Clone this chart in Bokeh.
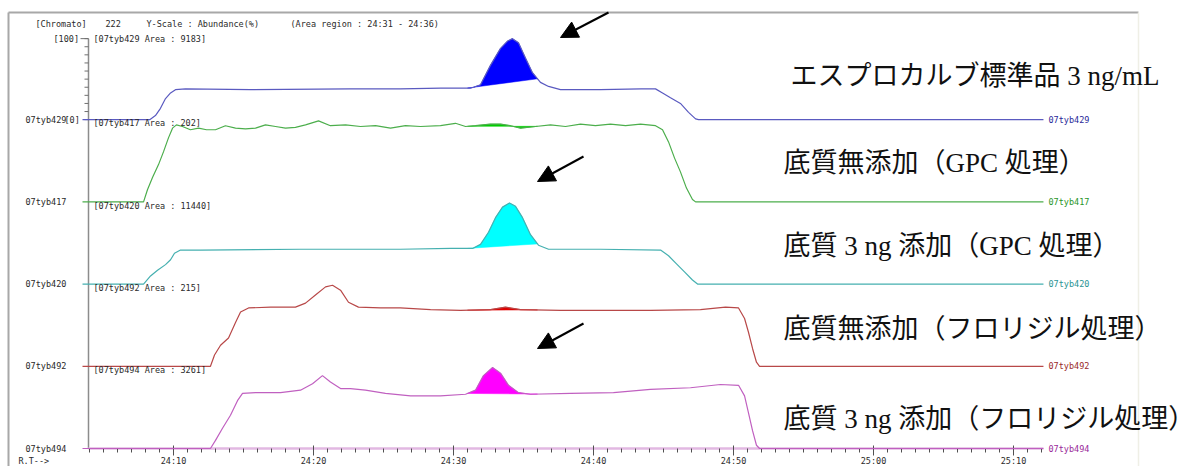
import numpy as np
from bokeh.plotting import figure
from bokeh.models import Range1d, Arrow, NormalHead
from bokeh.core.properties import value
from bokeh.embed import file_html
from bokeh.resources import INLINE

# ---------------- data (time = seconds after 24:00, abundance in %) ----------------
sample_ids = ["07tyb429", "07tyb417", "07tyb420", "07tyb492", "07tyb494"]
areas = [9183, 202, 11440, 215, 3261]
jp_labels = ["エスプロカルブ標準品 3 ng/mL",
             "底質無添加（GPC 処理）",
             "底質 3 ng 添加（GPC 処理）",
             "底質無添加（フロリジル処理）",
             "底質 3 ng 添加（フロリジル処理）"]

t_429 = [3.5, 8.3, 8.71, 9.07, 9.43, 9.79, 10.14, 10.86, 15.5, 22.6, 26.2, 29.1, 31.2, 31.43, 31.93, 32.64,
         33.36, 33.86, 34.21, 34.64, 35.14, 35.64, 36.21, 36.79, 37.64, 40.5, 43.4, 44.43, 44.93, 45.5,
         46.21, 46.79, 47.29, 47.5, 72.14]
a_429 = [0, 0, 5, 14, 26, 33, 37, 38, 37, 38, 38, 39, 39, 40, 43, 67,
         88, 97, 100, 95, 76, 58, 46, 41, 37, 37, 38, 38, 33, 27,
         20, 9, 1, 0, 0]

t_417 = [3.5, 7.86, 8.14, 8.5, 8.93, 9.29, 9.64, 9.93, 10.21, 10.64, 11.21, 11.79, 12.36, 13.0, 13.71,
         14.43, 15.14, 15.86, 16.57, 17.29, 18.0, 18.71, 19.43, 20.36, 21.21, 22.29, 23.36, 24.43, 25.5,
         26.57, 27.64, 29.07, 30.14, 30.86, 31.57, 32.64, 33.36, 34.07, 34.79, 35.86, 36.93, 38.0, 39.07,
         40.14, 41.21, 42.29, 43.36, 44.43, 44.93, 45.36, 45.79, 46.21, 46.64, 47.07, 47.29, 72.14]
a_417 = [0, 0, 15, 30, 46, 62, 79, 91, 95, 93, 89, 91, 89, 89, 94,
         91, 90, 91, 95, 93, 91, 92, 95, 100, 94, 95, 93, 94, 91,
         94, 93, 94, 97, 93, 94, 96, 96, 94, 91, 93, 95, 93, 96,
         94, 96, 94, 96, 94, 89, 74, 54, 37, 17, 3, 0, 0]

t_420 = [3.5, 7.86, 8.36, 8.86, 9.43, 9.79, 10.07, 10.5, 11.93, 19.1, 26.2, 29.8, 31.36, 31.93, 32.5,
         33.0, 33.5, 34.0, 34.43, 34.93, 35.5, 36.07, 36.79, 40.5, 44.79, 45.36, 45.93, 46.5, 47.07,
         47.43, 72.14]
a_420 = [0, 0, 10, 17, 24, 30, 38, 42, 42, 43, 43, 44, 44, 49, 64,
         82, 95, 100, 96, 82, 61, 48, 43, 43, 42, 35, 25, 15, 5,
         0, 0]

t_492 = [3.5, 12.64, 12.93, 13.36, 13.93, 14.43, 14.79, 15.36, 16.93, 18.71, 19.43, 20.14, 20.86, 21.36,
         21.93, 22.5, 23.21, 24.79, 26.2, 28.36, 30.5, 32.64, 33.71, 34.79, 37.64, 40.5, 44.07, 47.64,
         49.43, 50.36, 50.79, 51.07, 51.36, 51.64, 51.86, 72.14]
a_492 = [0, 0, 14, 26, 35, 54, 67, 72, 73, 73, 78, 88, 98, 100,
         94, 79, 73, 72, 72, 70, 69, 70, 73, 70, 69, 69, 69, 70,
         73, 72, 59, 42, 22, 5, 0, 0]

t_494 = [3.5, 12.64, 13.0, 13.5, 14.07, 14.57, 14.93, 15.86, 17.64, 19.07, 19.93, 20.64, 21.21, 21.93,
         22.64, 23.71, 25.14, 26.93, 29.07, 30.86, 31.57, 32.14, 32.79, 33.36, 33.93, 34.64, 35.5, 38.36,
         41.43, 44.07, 46.93, 49.07, 50.36, 50.79, 51.07, 51.36, 51.64, 51.86, 72.14]
a_494 = [0, 0, 10, 25, 41, 59, 68, 69, 69, 72, 80, 90, 82, 74,
         74, 72, 68, 65, 65, 67, 72, 90, 100, 93, 78, 69, 67, 68,
         69, 73, 75, 79, 78, 65, 44, 22, 4, 0, 0]

tick_seconds = [10, 20, 30, 40, 50, 60, 70]
tick_labels = ["24:10", "24:20", "24:30", "24:40", "24:50", "25:00", "25:10"]
area_region = (31, 36)          # 24:31 - 24:36
header_parts = ["[Chromato]", "222", "Y-Scale : Abundance(%)", "(Area region : 24:31 - 24:36)"]

traces_t = [t_429, t_417, t_420, t_492, t_494]
traces_a = [a_429, a_417, a_420, a_492, a_494]

# ---------------- styles ----------------
line_colors = ["#5a5ac0", "#4cae4c", "#45b0b0", "#b84848", "#c060c0"]
fill_colors = ["#0000ff", "#00cc00", "#00ffff", "#e00000", "#ff00ff"]
id_colors = ["#2a2a9a", "#2a962a", "#2a9494", "#9a2a2a", "#9a2a9a"]
header_px = [35, 105, 146, 290]

SLOT = 101.5          # % units between baselines
PXS = 14.0            # px per second
PXP = 0.81            # px per %
W, H = 1200, 466

def px2x(px):
    return 10 + (px - 173) / PXS

def px2y(py):
    return (448 - py) / PXP

p = figure(width=W, height=H, output_backend="svg", toolbar_location=None,
           x_range=Range1d(px2x(0), px2x(W)), y_range=Range1d(px2y(H), px2y(0)),
           x_axis_location=None, y_axis_location=None, min_border=0,
           outline_line_color=None, background_fill_color="white")
p.grid.grid_line_color = None

mono = value("DejaVu Sans Mono")
small = "8.5px"
txt_col = "#2a2a2a"

# frame
p.segment(x0=[px2x(8), px2x(8), px2x(1138)], y0=[px2y(12), px2y(12), px2y(12)],
          x1=[px2x(1138), px2x(8), px2x(1138)], y1=[px2y(12), px2y(H), px2y(H)],
          line_color=["#a8a8a8", "#a8a8a8", "#efefe6"], line_width=[2, 2, 1.5])

# header
p.text(x=[px2x(v) for v in header_px], y=[px2y(23)] * len(header_parts), text=header_parts,
       text_font=mono, text_font_size=small, text_color=txt_col, text_baseline="middle")

offsets = [(4 - i) * SLOT for i in range(5)]
t_start = px2x(88)
t_end = max(traces_t[0])

# vertical axis line
p.segment(x0=[t_start], y0=[0], x1=[t_start], y1=[offsets[0] + 100], line_color="#8c8c8c", line_width=1.5)
# y ticks for top trace
yt = [offsets[0] + v for v in range(0, 101, 10)]
p.segment(x0=[px2x(84)] * len(yt), y0=yt, x1=[t_start] * len(yt), y1=yt, line_color="#707070", line_width=1)
p.segment(x0=[px2x(80)], y0=[offsets[0] + 100], x1=[t_start], y1=[offsets[0] + 100], line_color="#707070", line_width=1)
p.text(x=[px2x(53)], y=[offsets[0] + 100], text=["[100]"], text_font=mono, text_font_size=small,
       text_color=txt_col, text_baseline="middle")
p.text(x=[px2x(64)], y=[offsets[0]], text=["[0]"], text_font=mono, text_font_size=small,
       text_color=txt_col, text_baseline="middle")

# bottom time axis
p.segment(x0=[t_start], y0=[0], x1=[t_end], y1=[0], line_color="#e2b8e2", line_width=2.5)
minor = [s for s in range(4, 73) if s % 10 != 0]
p.segment(x0=minor, y0=[0] * len(minor), x1=minor, y1=[px2y(452)] * len(minor), line_color="#505050", line_width=1)
p.segment(x0=tick_seconds, y0=[px2y(445)] * len(tick_seconds), x1=tick_seconds,
          y1=[px2y(455)] * len(tick_seconds), line_color="#505050", line_width=1)
p.text(x=tick_seconds, y=[px2y(460)] * len(tick_seconds), text=tick_labels, text_font=mono,
       text_font_size=small, text_color=txt_col, text_align="center", text_baseline="middle")
p.text(x=[px2x(18)], y=[px2y(460)], text=["R.T-->"], text_font=mono, text_font_size=small,
       text_color=txt_col, text_baseline="middle")

# traces
for i in range(5):
    t = np.array(traces_t[i], dtype=float)
    a = np.array(traces_a[i], dtype=float)
    off = offsets[i]
    t0, t1 = area_region
    inner = (t > t0) & (t < t1)
    xs = [t0] + list(t[inner]) + [t1]
    ys = [np.interp(t0, t, a)] + list(a[inner]) + [np.interp(t1, t, a)]
    p.patch(xs, [v + off for v in ys], fill_color=fill_colors[i], line_color=fill_colors[i], line_width=0.5)
    p.line(t, a + off, line_color=line_colors[i], line_width=1.2)
    # left id
    p.text(x=[px2x(25)], y=[off], text=[sample_ids[i]], text_font=mono, text_font_size=small,
           text_color=txt_col, text_baseline="middle")
    # right id
    p.text(x=[px2x(1048)], y=[off], text=[sample_ids[i]], text_font=mono, text_font_size=small,
           text_color=id_colors[i], text_baseline="middle")
    # area label
    p.text(x=[px2x(93)], y=[off + 97 if i else off + 100], text=[f"[{sample_ids[i]} Area : {areas[i]}]"],
           text_font=mono, text_font_size=small, text_color=txt_col, text_baseline="middle")

# Japanese labels
jp_x = [790, 783, 783, 783, 783]
jp_y = [75, 162, 245, 328, 418]
p.text(x=[px2x(v) for v in jp_x], y=[px2y(v) for v in jp_y], text=jp_labels,
       text_font=value("'Liberation Serif', 'Noto Sans CJK JP'"), text_font_size="27px",
       text_color="#111111", text_baseline="middle")

# arrows
arrows = [((608, 12), (560, 37)), ((583, 156), (537, 181)), ((583, 323), (537, 348))]
for (sx, sy), (ex, ey) in arrows:
    p.add_layout(Arrow(end=NormalHead(size=17, fill_color="black", line_color="black"),
                       x_start=px2x(sx), y_start=px2y(sy), x_end=px2x(ex), y_end=px2y(ey),
                       line_width=2, line_color="black"))

open("out.html", "w").write(file_html(p, INLINE))
